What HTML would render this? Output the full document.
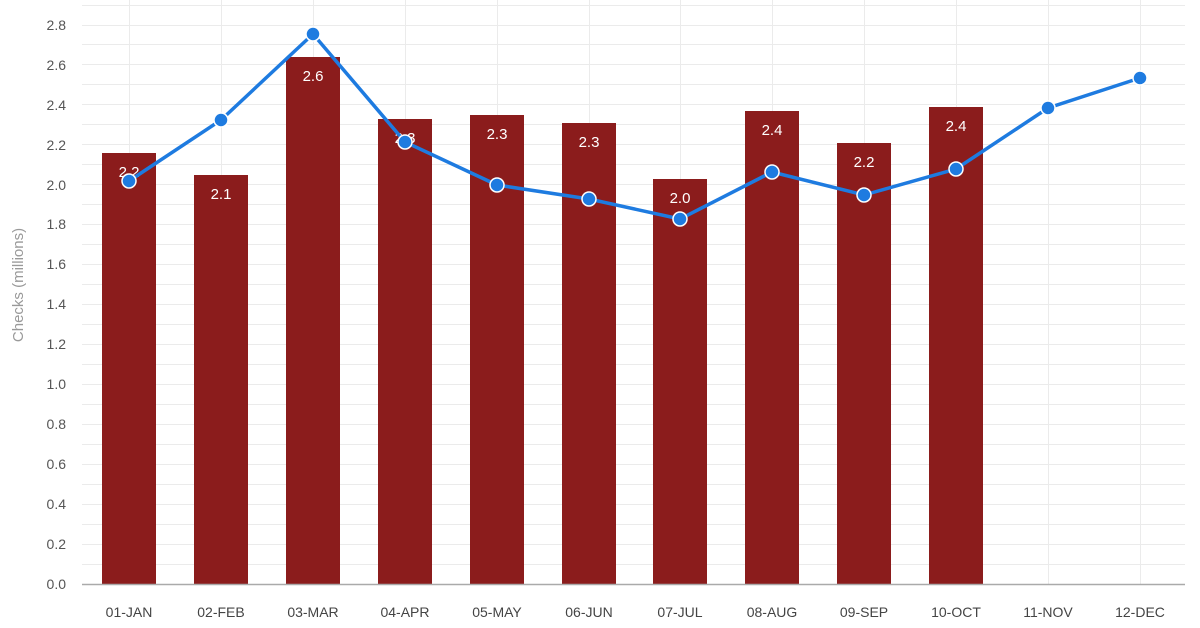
<!DOCTYPE html>
<html><head><meta charset="utf-8"><style>
body{margin:0;background:#fff;}
svg{display:block;font-family:"Liberation Sans",sans-serif;}
</style></head><body>
<svg width="1200" height="628" xmlns="http://www.w3.org/2000/svg">
<rect width="1200" height="628" fill="#fff"/>
<g stroke="#ebebeb" stroke-width="1">
<line x1="82" x2="1185" y1="564.5" y2="564.5"/><line x1="82" x2="1185" y1="544.5" y2="544.5"/><line x1="82" x2="1185" y1="524.5" y2="524.5"/><line x1="82" x2="1185" y1="504.5" y2="504.5"/><line x1="82" x2="1185" y1="484.5" y2="484.5"/><line x1="82" x2="1185" y1="464.5" y2="464.5"/><line x1="82" x2="1185" y1="444.5" y2="444.5"/><line x1="82" x2="1185" y1="424.5" y2="424.5"/><line x1="82" x2="1185" y1="404.5" y2="404.5"/><line x1="82" x2="1185" y1="384.5" y2="384.5"/><line x1="82" x2="1185" y1="364.5" y2="364.5"/><line x1="82" x2="1185" y1="344.5" y2="344.5"/><line x1="82" x2="1185" y1="324.5" y2="324.5"/><line x1="82" x2="1185" y1="304.5" y2="304.5"/><line x1="82" x2="1185" y1="284.5" y2="284.5"/><line x1="82" x2="1185" y1="264.5" y2="264.5"/><line x1="82" x2="1185" y1="244.5" y2="244.5"/><line x1="82" x2="1185" y1="224.5" y2="224.5"/><line x1="82" x2="1185" y1="204.5" y2="204.5"/><line x1="82" x2="1185" y1="184.5" y2="184.5"/><line x1="82" x2="1185" y1="164.5" y2="164.5"/><line x1="82" x2="1185" y1="144.5" y2="144.5"/><line x1="82" x2="1185" y1="124.5" y2="124.5"/><line x1="82" x2="1185" y1="104.5" y2="104.5"/><line x1="82" x2="1185" y1="84.5" y2="84.5"/><line x1="82" x2="1185" y1="64.5" y2="64.5"/><line x1="82" x2="1185" y1="44.5" y2="44.5"/><line x1="82" x2="1185" y1="25.5" y2="25.5"/><line x1="82" x2="1185" y1="5.5" y2="5.5"/>
<line x1="129.5" x2="129.5" y1="0" y2="584"/><line x1="221.5" x2="221.5" y1="0" y2="584"/><line x1="313.5" x2="313.5" y1="0" y2="584"/><line x1="405.5" x2="405.5" y1="0" y2="584"/><line x1="497.5" x2="497.5" y1="0" y2="584"/><line x1="589.5" x2="589.5" y1="0" y2="584"/><line x1="680.5" x2="680.5" y1="0" y2="584"/><line x1="772.5" x2="772.5" y1="0" y2="584"/><line x1="864.5" x2="864.5" y1="0" y2="584"/><line x1="956.5" x2="956.5" y1="0" y2="584"/><line x1="1048.5" x2="1048.5" y1="0" y2="584"/><line x1="1140.5" x2="1140.5" y1="0" y2="584"/>
</g>
<g fill="#8b1c1c">
<rect x="102" y="153" width="54" height="431"/><rect x="194" y="175" width="54" height="409"/><rect x="286" y="57" width="54" height="527"/><rect x="378" y="119" width="54" height="465"/><rect x="470" y="115" width="54" height="469"/><rect x="562" y="123" width="54" height="461"/><rect x="653" y="179" width="54" height="405"/><rect x="745" y="111" width="54" height="473"/><rect x="837" y="143" width="54" height="441"/><rect x="929" y="107" width="54" height="477"/>
</g>
<line x1="82" x2="1185" y1="584.5" y2="584.5" stroke="#aaa" stroke-width="1.5"/>
<g fill="#fff" font-size="15" text-anchor="middle">
<text x="129" y="177">2.2</text><text x="221" y="199">2.1</text><text x="313" y="81">2.6</text><text x="405" y="143">2.3</text><text x="497" y="139">2.3</text><text x="589" y="147">2.3</text><text x="680" y="203">2.0</text><text x="772" y="135">2.4</text><text x="864" y="167">2.2</text><text x="956" y="131">2.4</text>
</g>
<polyline fill="none" stroke="#1e7be0" stroke-width="3.5" points="129,181 221,120 313,34 405,142 497,185 589,199 680,219 772,172 864,195 956,169 1048,108 1140,78"/>
<g fill="#1e7be0" stroke="#fff" stroke-width="1.5">
<circle cx="129" cy="181" r="7"/><circle cx="221" cy="120" r="7"/><circle cx="313" cy="34" r="7"/><circle cx="405" cy="142" r="7"/><circle cx="497" cy="185" r="7"/><circle cx="589" cy="199" r="7"/><circle cx="680" cy="219" r="7"/><circle cx="772" cy="172" r="7"/><circle cx="864" cy="195" r="7"/><circle cx="956" cy="169" r="7"/><circle cx="1048" cy="108" r="7"/><circle cx="1140" cy="78" r="7"/>
</g>
<g fill="#555" font-size="14" text-anchor="end">
<text x="66" y="589">0.0</text><text x="66" y="549">0.2</text><text x="66" y="509">0.4</text><text x="66" y="469">0.6</text><text x="66" y="429">0.8</text><text x="66" y="389">1.0</text><text x="66" y="349">1.2</text><text x="66" y="309">1.4</text><text x="66" y="269">1.6</text><text x="66" y="229">1.8</text><text x="66" y="190">2.0</text><text x="66" y="150">2.2</text><text x="66" y="110">2.4</text><text x="66" y="70">2.6</text><text x="66" y="30">2.8</text>
</g>
<text transform="translate(23,285) rotate(-90)" fill="#999" font-size="15" text-anchor="middle">Checks (millions)</text>
<g fill="#444" font-size="14" text-anchor="middle">
<text x="129" y="617">01-JAN</text><text x="221" y="617">02-FEB</text><text x="313" y="617">03-MAR</text><text x="405" y="617">04-APR</text><text x="497" y="617">05-MAY</text><text x="589" y="617">06-JUN</text><text x="680" y="617">07-JUL</text><text x="772" y="617">08-AUG</text><text x="864" y="617">09-SEP</text><text x="956" y="617">10-OCT</text><text x="1048" y="617">11-NOV</text><text x="1140" y="617">12-DEC</text>
</g>
</svg>
</body></html>
